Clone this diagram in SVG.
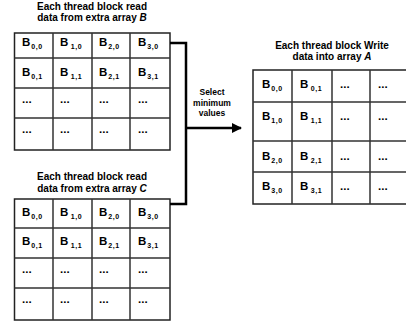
<svg xmlns="http://www.w3.org/2000/svg" width="406" height="327" viewBox="0 0 406 327">
<defs>
<style>
.t{font-family:"Liberation Sans",Arial,sans-serif;font-weight:bold;font-size:10px;fill:#000;text-anchor:middle}
.s{font-family:"Liberation Sans",Arial,sans-serif;font-weight:bold;font-size:8.5px;fill:#000;text-anchor:middle}
.c{font-family:"Liberation Sans",Arial,sans-serif;font-weight:bold;font-size:11.5px;fill:#000}
.sub{font-size:7px;letter-spacing:0.5px}
.g{fill:#fff;stroke:#222;stroke-width:1.5}
.l{stroke:#333;stroke-width:1.5;fill:none}
.k{stroke:#000;stroke-width:2.5;fill:none}
</style>
<marker id="ah" viewBox="0 0 10 10" refX="9" refY="5" markerWidth="4.5" markerHeight="4" orient="auto" markerUnits="strokeWidth">
<path d="M0,0 L10,5 L0,10 z" fill="#000"/>
</marker>
</defs>

<g id="arrayB">
<text class="t" x="92" y="10">Each thread block read</text>
<text class="t" x="92" y="21">data from extra array <tspan font-style="italic">B</tspan></text>
<rect class="g" x="14.5" y="33" width="155.5" height="117"/>
<path class="l" d="M53,33V150M92,33V150M130,33V150M14.5,58H170M14.5,88H170M14.5,118H170"/>
<text class="c" x="22" y="46">B<tspan class="sub" dx="1" dy="3">0,0</tspan></text>
<text class="c" x="60" y="46">B<tspan class="sub" dx="2.5" dy="3">1,0</tspan></text>
<text class="c" x="99" y="46">B<tspan class="sub" dx="1" dy="3">2,0</tspan></text>
<text class="c" x="138" y="46">B<tspan class="sub" dx="1" dy="3">3,0</tspan></text>
<text class="c" x="22" y="76">B<tspan class="sub" dx="1" dy="3">0,1</tspan></text>
<text class="c" x="60" y="76">B<tspan class="sub" dx="2.5" dy="3">1,1</tspan></text>
<text class="c" x="99" y="76">B<tspan class="sub" dx="1" dy="3">2,1</tspan></text>
<text class="c" x="138" y="76">B<tspan class="sub" dx="1" dy="3">3,1</tspan></text>
<text class="c" x="22" y="103">...</text>
<text class="c" x="60" y="103">...</text>
<text class="c" x="99" y="103">...</text>
<text class="c" x="138" y="103">...</text>
<text class="c" x="22" y="133">...</text>
<text class="c" x="60" y="133">...</text>
<text class="c" x="99" y="133">...</text>
<text class="c" x="138" y="133">...</text>
</g>

<g id="arrayC">
<text class="t" x="92" y="180">Each thread block read</text>
<text class="t" x="92" y="192">data from extra array <tspan font-style="italic">C</tspan></text>
<rect class="g" x="14.5" y="199" width="155.5" height="121"/>
<path class="l" d="M53,199V320M92,199V320M130,199V320M14.5,228H170M14.5,258H170M14.5,288H170"/>
<text class="c" x="22" y="216">B<tspan class="sub" dx="1" dy="3">0,0</tspan></text>
<text class="c" x="60" y="216">B<tspan class="sub" dx="2.5" dy="3">1,0</tspan></text>
<text class="c" x="99" y="216">B<tspan class="sub" dx="1" dy="3">2,0</tspan></text>
<text class="c" x="138" y="216">B<tspan class="sub" dx="1" dy="3">3,0</tspan></text>
<text class="c" x="22" y="245">B<tspan class="sub" dx="1" dy="3">0,1</tspan></text>
<text class="c" x="60" y="245">B<tspan class="sub" dx="2.5" dy="3">1,1</tspan></text>
<text class="c" x="99" y="245">B<tspan class="sub" dx="1" dy="3">2,1</tspan></text>
<text class="c" x="138" y="245">B<tspan class="sub" dx="1" dy="3">3,1</tspan></text>
<text class="c" x="22" y="273">...</text>
<text class="c" x="60" y="273">...</text>
<text class="c" x="99" y="273">...</text>
<text class="c" x="138" y="273">...</text>
<text class="c" x="22" y="303">...</text>
<text class="c" x="60" y="303">...</text>
<text class="c" x="99" y="303">...</text>
<text class="c" x="138" y="303">...</text>
</g>

<g id="arrayA">
<text class="t" x="332" y="49">Each thread block Write</text>
<text class="t" x="332" y="60">data into array <tspan font-style="italic">A</tspan></text>
<rect class="g" x="253" y="70" width="160" height="134"/>
<path class="l" d="M292,70V204M332,70V204M370,70V204M253,102H410M253,141H410M253,172H410"/>
<text class="c" x="262" y="88">B<tspan class="sub" dx="1" dy="3">0,0</tspan></text>
<text class="c" x="300" y="88">B<tspan class="sub" dx="2.5" dy="3">0,1</tspan></text>
<text class="c" x="340" y="88">...</text>
<text class="c" x="378" y="88">...</text>
<text class="c" x="262" y="120">B<tspan class="sub" dx="1" dy="3">1,0</tspan></text>
<text class="c" x="300" y="120">B<tspan class="sub" dx="2.5" dy="3">1,1</tspan></text>
<text class="c" x="340" y="120">...</text>
<text class="c" x="378" y="120">...</text>
<text class="c" x="262" y="160">B<tspan class="sub" dx="1" dy="3">2,0</tspan></text>
<text class="c" x="300" y="160">B<tspan class="sub" dx="2.5" dy="3">2,1</tspan></text>
<text class="c" x="340" y="160">...</text>
<text class="c" x="378" y="160">...</text>
<text class="c" x="262" y="190">B<tspan class="sub" dx="1" dy="3">3,0</tspan></text>
<text class="c" x="300" y="190">B<tspan class="sub" dx="2.5" dy="3">3,1</tspan></text>
<text class="c" x="340" y="190">...</text>
<text class="c" x="378" y="190">...</text>
</g>

<g id="connectors">
<path class="k" d="M170,43H186V204H170"/>
<path class="k" d="M186,128H241" marker-end="url(#ah)"/>
<text class="s" x="212" y="95">Select</text>
<text class="s" x="212" y="105.5">minimum</text>
<text class="s" x="212" y="116">values</text>
</g>
</svg>
